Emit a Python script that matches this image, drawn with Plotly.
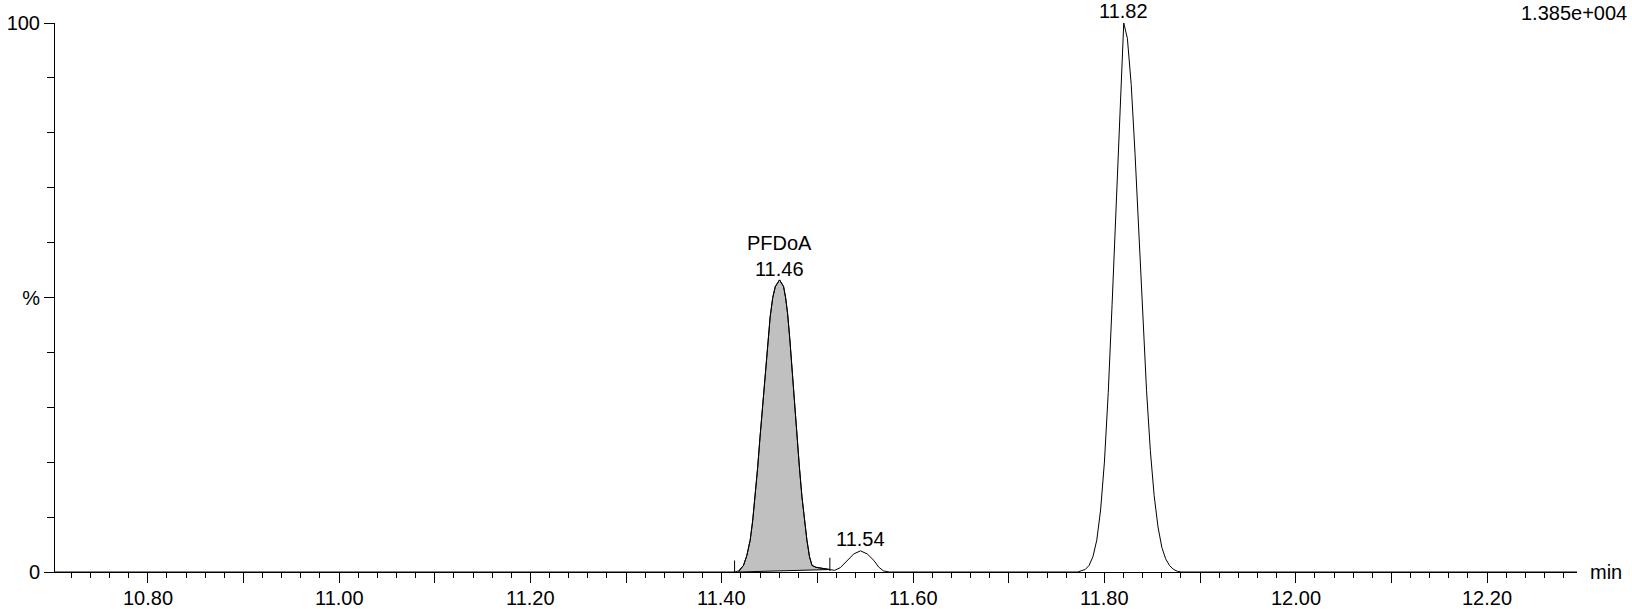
import plotly.graph_objects as go

# ---- data (time in min, intensity in %) ----
base_left_t = [10.700, 11.413]
base_left_y = [0.0, 0.0]

pfdoa_t = [11.4134, 11.4175, 11.4227, 11.4262, 11.4297, 11.4323, 11.4350, 11.4375, 11.4400,
           11.4428, 11.4455, 11.4480, 11.4506, 11.4533, 11.4560, 11.4604, 11.4646, 11.4667,
           11.4688, 11.4711, 11.4734, 11.4760, 11.4786, 11.4812, 11.4838, 11.4864, 11.4890,
           11.4917, 11.4943, 11.4985, 11.5030, 11.5080, 11.5130]
pfdoa_y = [0.0, 0.2, 1.2, 3.0, 5.8, 9.3, 13.7, 19.0, 24.6,
           30.8, 36.8, 42.0, 46.5, 50.0, 52.0, 53.2, 52.0, 50.0,
           47.1, 42.5, 36.8, 30.5, 24.6, 19.0, 13.7, 9.3, 5.8,
           2.8, 1.2, 0.85, 0.7, 0.55, 0.45]

small_t = [11.5180, 11.5240, 11.5310, 11.5380, 11.5450, 11.5520, 11.5590, 11.5640, 11.5690, 11.5750]
small_y = [0.3, 0.8, 2.1, 3.3, 3.85, 3.3, 2.1, 0.9, 0.2, 0.0]

main_t = [11.7720, 11.7760, 11.7800, 11.7840, 11.7880, 11.7920, 11.7960, 11.8000, 11.8040,
          11.8080, 11.8120, 11.8160, 11.8202, 11.8240, 11.8280, 11.8320, 11.8360, 11.8400,
          11.8440, 11.8480, 11.8520, 11.8560, 11.8600, 11.8640, 11.8680, 11.8720, 11.8760,
          11.8800, 11.8850]
main_y = [0.0, 0.17, 0.47, 1.2, 2.8, 5.8, 11.3, 20.0, 32.7,
          48.7, 66.5, 83.2, 100.0, 97.2, 88.8, 76.2, 61.4, 46.5,
          33.1, 22.1, 13.9, 8.2, 4.5, 2.4, 1.2, 0.5, 0.15,
          0.0, 0.0]

base_right_t = [11.885, 12.300]
base_right_y = [0.0, 0.0]

# integration baseline of the PFDoA peak (start, end)
integ_t = [11.4175, 11.5130]
integ_y = [0.0, 0.45]

# peak-integration drop markers: time, bottom, top
marker_t = [11.4134, 11.5130]
marker_lo = [0.0, 0.18]
marker_hi = [2.1, 2.6]

# peak labels
label_t = [11.4604, 11.5450, 11.8202]
label_y = [53.2, 3.85, 100.0]
label_text = ["PFDoA<br>11.46", "11.54", "11.82"]

x_tickvals = [10.8, 10.9, 11.0, 11.1, 11.2, 11.3, 11.4, 11.5, 11.6, 11.7, 11.8, 11.9, 12.0, 12.1, 12.2]
x_ticktext = ["10.80", "", "11.00", "", "11.20", "", "11.40", "", "11.60", "", "11.80", "", "12.00", "", "12.20"]
y_tickvals = [0, 50, 100]
y_ticktext = ["0", "%", "100"]
scale_text = "1.385e+004"
x_unit = "min"

# ---- build figure ----
FONT = "Liberation Sans, Arial, Helvetica, sans-serif"
FS = 20
trace_t = base_left_t + pfdoa_t + small_t + main_t + base_right_t
trace_y = base_left_y + pfdoa_y + small_y + main_y + base_right_y

fig = go.Figure()

# shaded integrated area: curve from baseline start to end, back along integration baseline
fill_t = [integ_t[0]] + [t for t in pfdoa_t if integ_t[0] < t <= integ_t[1]] + [integ_t[1], integ_t[0]]
fill_y = [integ_y[0]] + [y for t, y in zip(pfdoa_t, pfdoa_y) if integ_t[0] < t <= integ_t[1]] + [integ_y[1], integ_y[0]]
fig.add_trace(go.Scatter(x=fill_t, y=fill_y, mode="lines", fill="toself",
                         fillcolor="#c0c0c0", line=dict(color="black", width=1),
                         hoverinfo="skip", showlegend=False, cliponaxis=False))

fig.add_trace(go.Scatter(x=trace_t, y=trace_y, mode="lines",
                         line=dict(color="black", width=1), showlegend=False, cliponaxis=False))

mx, my = [], []
for t, lo, hi in zip(marker_t, marker_lo, marker_hi):
    mx += [t, t, None]
    my += [lo, hi, None]
fig.add_trace(go.Scatter(x=mx, y=my, mode="lines", line=dict(color="black", width=1),
                         showlegend=False, hoverinfo="skip", cliponaxis=False))

for t, y, txt in zip(label_t, label_y, label_text):
    n = txt.count("<br>") + 1
    fig.add_annotation(x=t, y=y, xref="x", yref="y", text=txt, showarrow=False,
                       yanchor="middle", xanchor="center", yshift=12 * n,
                       font=dict(family=FONT, size=FS, color="black"))

# x tick labels placed on the x scale
for t, txt in zip(x_tickvals, x_ticktext):
    if txt:
        fig.add_annotation(x=t, y=0, xref="x", yref="paper", text=txt, showarrow=False,
                           yanchor="middle", xanchor="center", yshift=-26, borderpad=0,
                           font=dict(family=FONT, size=FS, color="black"))

fig.add_annotation(x=1, y=1, xref="paper", yref="paper", text=scale_text, showarrow=False,
                   xanchor="right", yanchor="middle", xshift=52, yshift=10,
                   font=dict(family=FONT, size=FS, color="black"))
fig.add_annotation(x=1, y=0, xref="paper", yref="paper", text=x_unit, showarrow=False,
                   xanchor="left", yanchor="middle", xshift=11, yshift=0,
                   font=dict(family=FONT, size=FS, color="black"))

fig.update_layout(
    width=1632, height=609,
    margin=dict(l=55, r=55, t=23, b=37, pad=0, autoexpand=False),
    paper_bgcolor="white", plot_bgcolor="white",
    font=dict(family=FONT, size=FS, color="black"),
    showlegend=False,
)
fig.update_xaxes(range=[10.703, 12.294], showgrid=False, zeroline=False, automargin=False,
                 showline=True, linecolor="black", linewidth=1,
                 tickmode="array", tickvals=x_tickvals, showticklabels=False,
                 ticks="outside", ticklen=10, tickwidth=1, tickcolor="black",
                 minor=dict(ticks="outside", dtick=0.02, tick0=10.8, ticklen=5,
                            tickwidth=1, tickcolor="black", showgrid=False))
fig.update_yaxes(range=[0, 100], showgrid=False, zeroline=False, automargin=False,
                 showline=True, linecolor="black", linewidth=1,
                 tickmode="array", tickvals=y_tickvals, ticktext=y_ticktext,
                 ticks="outside", ticklen=10, tickwidth=1, tickcolor="black",
                 minor=dict(ticks="outside", dtick=10, tick0=0, ticklen=7,
                            tickwidth=1, tickcolor="black", showgrid=False),
                 tickfont=dict(family=FONT, size=FS, color="black"))

fig.write_html("out.html", config={"displayModeBar": False},
               post_script="document.body.style.margin='0';document.body.style.overflow='hidden';")
